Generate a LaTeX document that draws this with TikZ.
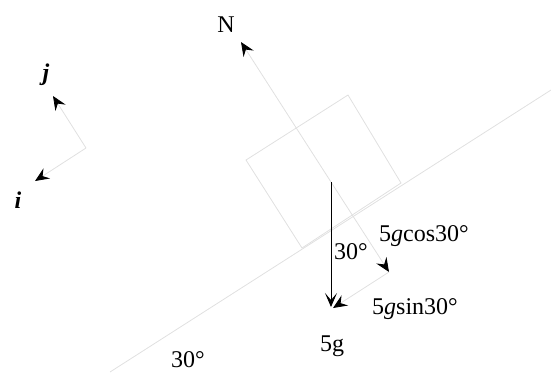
\documentclass[tikz,border=0pt]{standalone}
\usepackage{fontspec}
\setmainfont{Liberation Serif}
\usetikzlibrary{arrows.meta, positioning}

\begin{document}
\begin{tikzpicture}[
    x=0.5pt, y=-0.5pt,
    every node/.style={font=\fontsize{12}{14}\selectfont, inner sep=0pt},
    faint/.style={draw=black!12, line width=0.4pt},
    vec/.style={faint, -{Stealth[black, length=7pt, width=6pt, inset=2.5pt]}},
    weight/.style={draw=black, line width=0.5pt, -{Stealth[length=7pt, width=6pt, inset=3.5pt]}},
]
\useasboundingbox (0,0) rectangle (551,372);

% incline and block
\coordinate (base) at (110,372);
\coordinate (top) at (551,90);
\coordinate (bl) at (302,248);
\coordinate (br) at (401,183);
\coordinate (tr) at (348,95);
\coordinate (tl) at (246,160);
\draw[faint] (base) -- (top);
\draw[faint] (bl) -- (br) -- (tr) -- (tl) -- cycle;

% forces on the block
\coordinate (O) at (331,182);
\coordinate (Ntip) at (241,42);
\coordinate (Ctip) at (389,272);
\coordinate (Stip) at (333,308);
\coordinate (Wtip) at (331,307);
\draw[vec] (O) -- (Ntip);
\draw[vec] (O) -- (Ctip);
\draw[vec] (Ctip) -- (Stip);
\draw[weight] (O) -- (Wtip);

% unit vectors
\coordinate (ax) at (86,148);
\coordinate (jtip) at (53,96);
\coordinate (itip) at (35,181);
\draw[vec] (ax) -- (jtip);
\draw[vec] (ax) -- (itip);

\node (Nlab) at (226,25) {N};
\node (jlab) at (46,75) {\textbf{\textit{j}}};
\node (ilab) at (18,200) {\textbf{\textit{i}}};
\node (ang) at (351,252) {30°};
\node (coslab) at (424,236) {5\textit{g}cos30°};
\node (sinlab) at (415,309) {5\textit{g}sin30°};
\node (wlab) at (332,346) {5g};
\node (slope) at (188,360) {30°};
\end{tikzpicture}
\end{document}
